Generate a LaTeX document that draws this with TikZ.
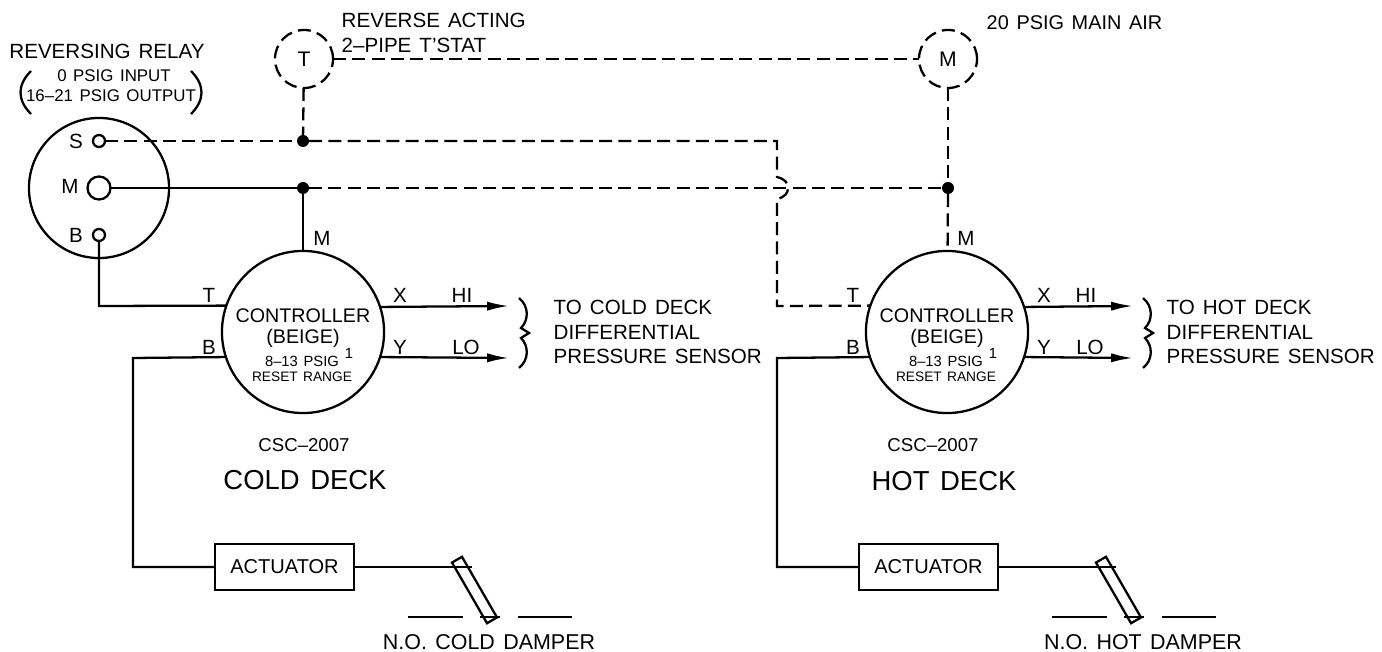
\documentclass[tikz,border=0pt]{standalone}
\usepackage{fontspec}
\setmainfont[WordSpace=1.4]{Liberation Sans}
\usetikzlibrary{arrows.meta}
\tikzset{
    wire/.style={line width=0.65pt},
    airline/.style={wire, dash pattern=on 3.7pt off 1.8pt},
    outtip/.style={wire, -{Latex[length=6.2pt, width=2.6pt]}},
    bigcircle/.style={circle, draw, wire, inner sep=0pt, outer sep=0pt, minimum size=#1},
    airball/.style={circle, draw, airline, inner sep=0pt, outer sep=0pt, minimum size=0.58cm, font=\fontsize{6}{7}\selectfont},
    port/.style={circle, draw, wire, inner sep=0pt, outer sep=0pt, minimum size=#1},
    dotjoin/.style={circle, fill, inner sep=0pt, outer sep=0pt, minimum size=0.12cm},
    label/.style={inner sep=0pt, font=\fontsize{5.85}{7}\selectfont},
    leftlabel/.style={label, anchor=west, align=left, font=\fontsize{5.85}{7}\selectfont},
    relaytext/.style={label, font=\fontsize{4.8}{6}\selectfont},
    smallabel/.style={label, align=center, font=\fontsize{4.2}{4.4}\selectfont},
    ctrltext/.style={label, align=center, font=\fontsize{5.6}{6}\selectfont},
    decklabel/.style={label, font=\fontsize{7.8}{9}\selectfont},
    tagname/.style={label, font=\fontsize{5.3}{6}\selectfont},
    damperlabel/.style={label, font=\fontsize{6.1}{7}\selectfont},
    actbox/.style={draw, wire, inner sep=0pt, outer sep=0pt, minimum width=1.39cm, minimum height=0.46cm, font=\fontsize{5.7}{7}\selectfont},
    damperblade/.style={draw, wire, inner sep=0pt, outer sep=0pt, minimum width=0.7cm, minimum height=0.115cm, rotate=-60},
}
\begin{document}
\begin{tikzpicture}[x=0.01cm, y=-0.01cm]
    \useasboundingbox (0,0) rectangle (1382,652);

    % Relay
    \node[bigcircle=1.4cm] (relay) at (99,188) {};
    \node[port=0.12cm] (relayS) at (99,141) {};
    \node[port=0.23cm] (relayM) at (99,188) {};
    \node[port=0.12cm] (relayB) at (99,235) {};
    \node[label] (relayStag) at (76,141) {S};
    \node[label] (relayMtag) at (70,186) {M};
    \node[label] (relayBtag) at (76,235) {B};
    \node[label] (relayname) at (107,51) {REVERSING RELAY};
    \node[relaytext] (relayin) at (114,76) {0 PSIG INPUT};
    \node[relaytext] (relayout) at (111,96) {16--21 PSIG OUTPUT};
    \draw[wire] (31,71) .. controls (17,85) and (17,100) .. (31,114);
    \draw[wire] (191,71) .. controls (205,85) and (205,100) .. (191,114);

    % Thermostat and main air
    \node[airball] (tstat) at (304,59) {T};
    \node[airball] (mainair) at (948,59) {M};
    \node[leftlabel] (tstatname) at (341,33) {REVERSE ACTING\\2--PIPE T'STAT};
    \node[leftlabel, font=\fontsize{5.65}{7}\selectfont] (mainname) at (986,23) {20 PSIG MAIN AIR};
    \node[dotjoin] (joinS) at (303,141) {};
    \node[dotjoin] (joinM) at (303,188) {};
    \node[dotjoin] (joinH) at (948,188) {};

    % Controllers
    \node[bigcircle=1.62cm] (ctrlC) at (303,332) {};
    \node[bigcircle=1.62cm] (ctrlH) at (947,332) {};
    \node[ctrltext] (ctrlCtext) at (303,328) {CONTROLLER\\(BEIGE)};
    \node[ctrltext] (ctrlHtext) at (947,328) {CONTROLLER\\(BEIGE)};
    \node[smallabel] (ctrlCrange) at (302,369) {8--13 PSIG\\\fontsize{3.9}{4.4}\selectfont RESET RANGE};
    \node[smallabel] (ctrlHrange) at (946,369) {8--13 PSIG\\\fontsize{3.9}{4.4}\selectfont RESET RANGE};
    \node[smallabel] (ctrlCnote) at (349,353) {1};
    \node[smallabel] (ctrlHnote) at (993,353) {1};

    % Tags round the controllers
    \node[label] (tagCM) at (322,238) {M};
    \node[label] (tagCT) at (209,295) {T};
    \node[label] (tagCB) at (209,347) {B};
    \node[label] (tagCX) at (400,295) {X};
    \node[label] (tagCY) at (400,347) {Y};
    \node[label] (tagCHI) at (462,295) {HI};
    \node[label] (tagCLO) at (466,347) {LO};
    \node[label] (tagHM) at (966,238) {M};
    \node[label] (tagHT) at (853,295) {T};
    \node[label] (tagHB) at (853,347) {B};
    \node[label] (tagHX) at (1044,295) {X};
    \node[label] (tagHY) at (1044,347) {Y};
    \node[label] (tagHHI) at (1086,295) {HI};
    \node[label] (tagHLO) at (1090,347) {LO};

    % Deck names
    \node[tagname] (cscC) at (304,445) {CSC--2007};
    \node[tagname] (cscH) at (933,445) {CSC--2007};
    \node[decklabel] (deckC) at (305,480) {COLD DECK};
    \node[decklabel] (deckH) at (944,481) {HOT DECK};

    % Sensor text
    \node[leftlabel] (sensorC) at (553,332) {TO COLD DECK\\DIFFERENTIAL\\PRESSURE SENSOR};
    \node[leftlabel] (sensorH) at (1166,332) {TO HOT DECK\\DIFFERENTIAL\\PRESSURE SENSOR};

    % Actuators and dampers
    \node[actbox] (actC) at (284.5,567) {ACTUATOR};
    \node[actbox] (actH) at (928.5,567) {ACTUATOR};
    \node[damperblade] (bladeC) at (474.5,590) {};
    \node[damperblade] (bladeH) at (1118.5,590) {};
    \node[damperlabel] (damperC) at (489,642) {N.O. COLD DAMPER};
    \node[damperlabel] (damperH) at (1143,642) {N.O. HOT DAMPER};

    % Free ends and corners
    \coordinate (tipCX) at (509,306);
    \coordinate (tipCY) at (509,358);
    \coordinate (tipHX) at (1133,306);
    \coordinate (tipHY) at (1133,358);
    \coordinate (stubC) at (472,567);
    \coordinate (stubH) at (1116,567);

    % Air lines
    \draw[airline] (tstat) -- (mainair);
    \draw[airline] (tstat) -- (joinS);
    \draw[airline] (relayS) -- (joinS);
    \draw[airline] (joinS) -- (777,141) -- (777,177) .. controls (785,179) and (788,183) .. (788,188) .. controls (788,193) and (785,197) .. (777,199) -- (777,306) -- (ctrlH.161.3);
    \draw[wire] (relayM) -- (joinM);
    \draw[wire] (joinM) -- (ctrlC);
    \draw[airline] (joinM) -- (joinH);
    \draw[airline] (mainair) -- (joinH);
    \draw[airline] (joinH) -- (ctrlH);
    \draw[wire] (relayB) -- (99,306) -- (ctrlC.161.3);

    % Outputs
    \draw[outtip] (ctrlC.18.7) -- (tipCX);
    \draw[outtip] (ctrlC.-18.7) -- (tipCY);
    \draw[outtip] (ctrlH.18.7) -- (tipHX);
    \draw[outtip] (ctrlH.-18.7) -- (tipHY);

    % Actuator lines
    \draw[wire] (ctrlC.198.7) -- (133,358) -- (133,567) -- (actC);
    \draw[wire] (ctrlH.198.7) -- (777,358) -- (777,567) -- (actH);
    \draw[wire] (actC) -- (stubC);
    \draw[wire] (actH) -- (stubH);

    % Damper lines
    \draw[wire] (408,617) -- (463,617);
    \draw[wire] (480,617) -- (500,617);
    \draw[wire] (518,617) -- (572,617);
    \draw[wire] (1052,617) -- (1107,617);
    \draw[wire] (1124,617) -- (1144,617);
    \draw[wire] (1162,617) -- (1216,617);

    % Braces
    \draw[wire] (519,298) .. controls (529,306) and (529,320) .. (521,328) -- (529,333) -- (521,338) .. controls (529,346) and (529,360) .. (519,368);
    \draw[wire] (1143,298) .. controls (1153,306) and (1153,320) .. (1145,328) -- (1153,333) -- (1145,338) .. controls (1153,346) and (1153,360) .. (1143,368);
\end{tikzpicture}
\end{document}
